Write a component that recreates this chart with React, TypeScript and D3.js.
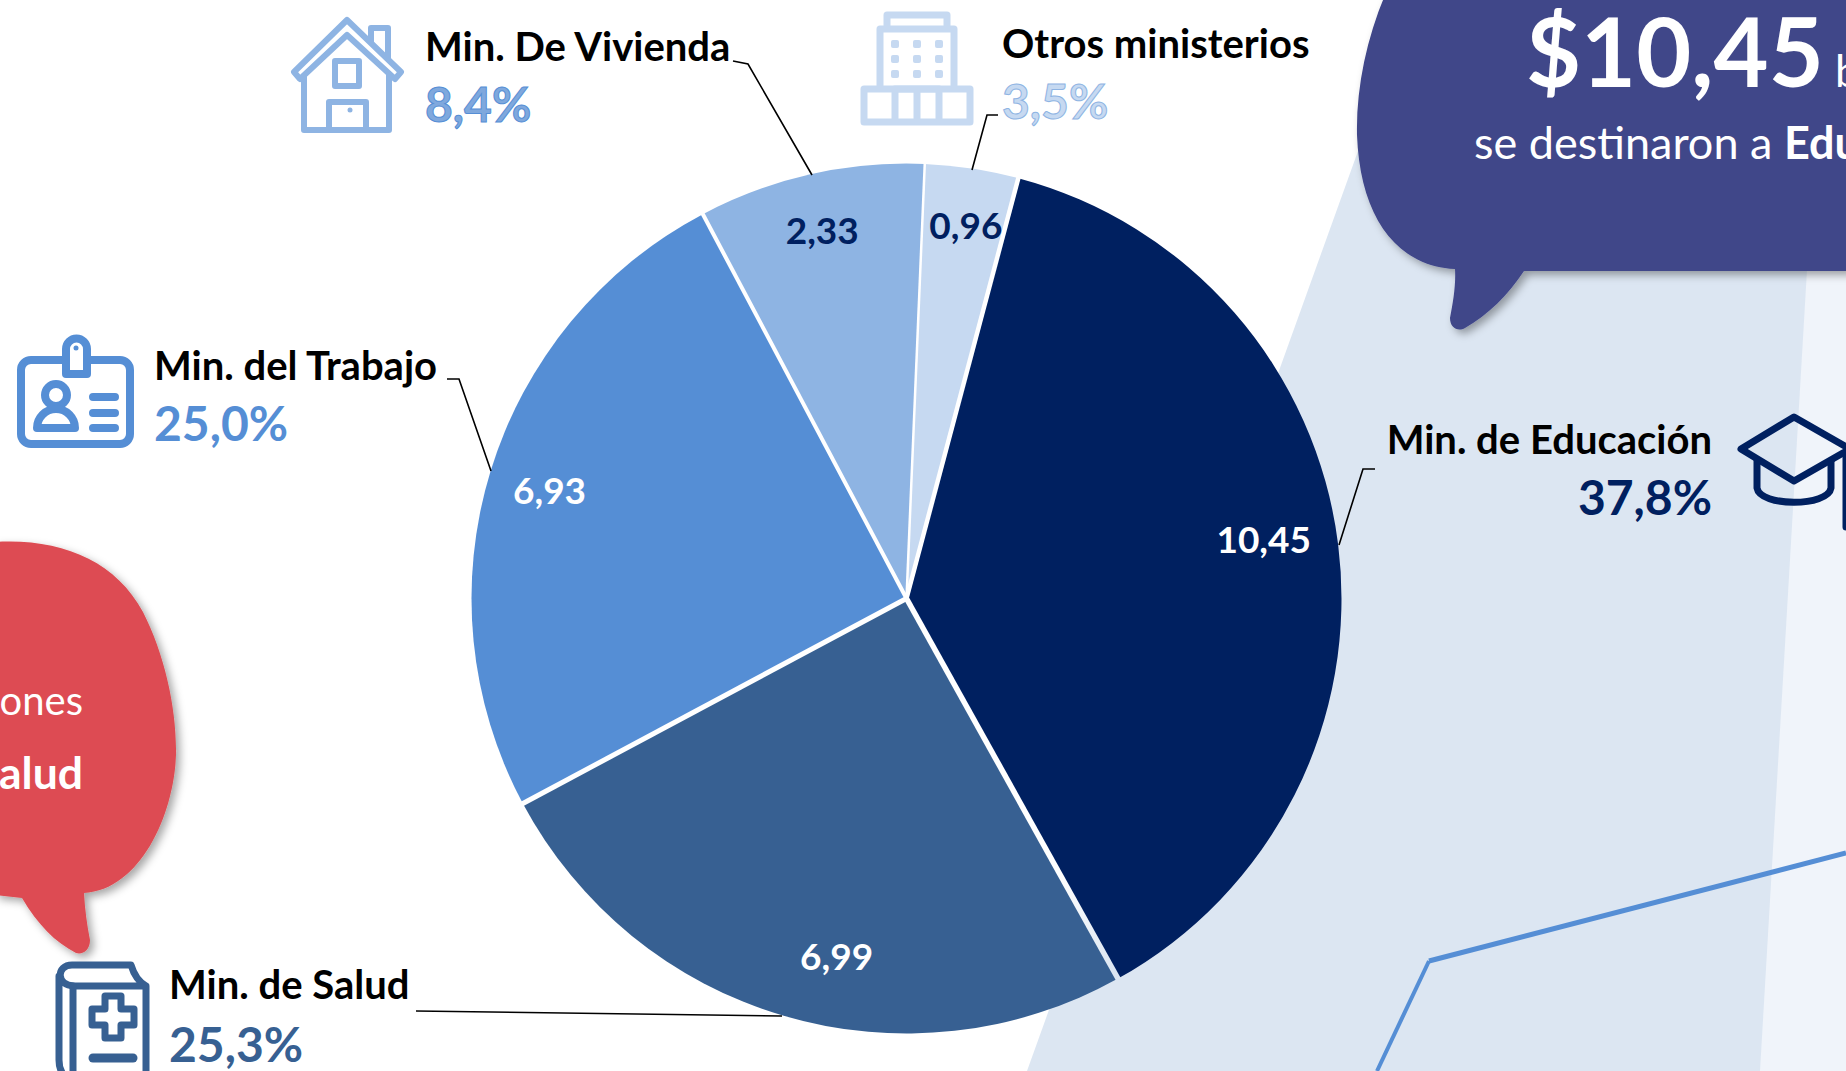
import React from 'react';
import * as d3 from 'd3';

const width = 1846;
const height = 1071;

// chart values
const ministries = ['Min. de Educación', 'Min. de Salud', 'Min. del Trabajo', 'Min. De Vivienda', 'Otros ministerios'];
const budget = [10.45, 6.99, 6.93, 2.33, 0.96];
const budgetLabels = ['10,45', '6,99', '6,93', '2,33', '0,96'];
const shareLabels = ['37,8%', '25,3%', '25,0%', '8,4%', '3,5%'];
const sliceColors = ['#002060', '#376092', '#558ed5', '#8eb4e3', '#c6d9f1'];

// layout of the annotations, one entry per ministry
const valueColors = ['#ffffff', '#ffffff', '#ffffff', '#002060', '#002060'];
const valueNudge = [[-8, -13], [34, 6], [-5, 0], [-3, -9], [4, -9]];
const separatorWidths = [4.5, 5.5, 5, 4, 2.5]; // white line at the start of each slice
const nameLayout = [
  { x: 1712, y: 454, pctY: 515, anchor: 'end' },
  { x: 169, y: 999, pctY: 1062, anchor: 'start' },
  { x: 154, y: 380, pctY: 441, anchor: 'start' },
  { x: 425, y: 61, pctY: 122, anchor: 'start' },
  { x: 1002, y: 58, pctY: 119, anchor: 'start' },
];
const pctFill = ['#002060', '#376092', '#558ed5', '#7fa8dd', '#c6d9f1'];
const pctStroke = ['none', 'none', 'none', '#558ed5', '#8eb4e3'];
const leaders: [number, number][][] = [
  [[1375, 469], [1363, 469], [1339, 545]],
  [[416, 1011], [782, 1016]],
  [[447, 379], [459, 379], [491, 471]],
  [[733, 61], [748, 64], [812, 175]],
  [[998, 115], [987, 115], [972, 170]],
];

const cx = 906.5;
const cy = 598.5;
const radius = 435;
const font = 'Lato, Carlito, sans-serif';

const pie = d3.pie<number>()
  .sort(null)
  .startAngle((14.9 * Math.PI) / 180)
  .endAngle((14.9 * Math.PI) / 180 + 2 * Math.PI);
const arc = d3.arc<d3.PieArcDatum<number>>().innerRadius(0).outerRadius(radius);
const labelArc = d3.arc<d3.PieArcDatum<number>>().innerRadius(368).outerRadius(368);
const color = d3.scaleOrdinal<string, string>().domain(ministries).range(sliceColors);
const leaderLine = d3.line();
const radial = d3.lineRadial();

function House() {
  const c = sliceColors[3];
  return (
    <g fill="none" stroke={c} strokeWidth={6} strokeLinejoin="round">
      <path d="M294 72L347 20L401 72L395 79L347 35L300 79Z" />
      <path d="M371 42V28H388V59" />
      <path d="M304 74V130H389V74" />
      <rect x={335} y={61} width={24} height={25} />
      <path d="M329 130V102H366V130" />
      <circle cx={350} cy={110} r={2.5} fill={c} stroke="none" />
    </g>
  );
}

function Building() {
  const c = sliceColors[4];
  const xs = [895, 917, 939];
  const ys = [44, 59, 74];
  return (
    <g fill="none" stroke={c} strokeWidth={7} strokeLinejoin="round">
      <path d="M887 28V15H947V28" />
      <path d="M880 88V29H954V88" />
      <rect x={864} y={89} width={106} height={33} />
      <path d="M895 122V89H939V122M917 89V122" />
      {xs.map(x => ys.map(y => (
        <rect key={x + '-' + y} x={x - 4} y={y - 4} width={8} height={8} rx={2} fill={c} stroke="none" />
      )))}
    </g>
  );
}

function Badge() {
  const c = sliceColors[2];
  return (
    <g fill="none" stroke={c} strokeWidth={8} strokeLinejoin="round" strokeLinecap="round">
      <rect x={21} y={360} width={109} height={84} rx={10} />
      <path d="M66 374V349A10.500 10.500 0 0 1 87 349V374Z" fill="#fff" />
      <circle cx={76} cy={348} r={2.5} fill={c} stroke="none" />
      <circle cx={56} cy={395} r={11} />
      <path d="M37 428A19 19 0 0 1 75 428Z" />
      <path d="M93 397H115M93 413H115M93 428H115" />
    </g>
  );
}

function Cap() {
  const c = sliceColors[0];
  return (
    <g fill="none" stroke={c} strokeWidth={7} strokeLinejoin="round" strokeLinecap="round">
      <path d="M1741 449L1794 417L1850 449L1794 481Z" />
      <path d="M1757 461V488C1760 507 1828 507 1831 488V461" />
      <path d="M1846 452V527" />
    </g>
  );
}

function Book() {
  const c = sliceColors[1];
  return (
    <g fill="none" stroke={c} strokeWidth={7} strokeLinejoin="round" strokeLinecap="round">
      <path d="M146 986H74C56 986 56 965 72 965H131C134 975 139 982 146 986V1078H72C62 1078 59 1068 59 1060V976" />
      <path d="M73 986V1078" />
      <path d="M105 996H121V1009H134V1025H121V1038H105V1025H92V1009H105Z" />
      <path d="M93 1058H133" strokeWidth={9} />
    </g>
  );
}

export default function App() {
  const slices = pie(budget);
  return (
    <svg
      width={width}
      height={height}
      viewBox={`0 0 ${width} ${height}`}
      style={{ position: 'fixed', left: 0, top: 0, display: 'block', background: '#fff' }}
      fontFamily={font}
    >
      <defs>
        <filter id="bubbleShadow" x="-10%" y="-10%" width="125%" height="125%">
          <feDropShadow dx={4} dy={4} stdDeviation={4} floodColor="#000" floodOpacity={0.35} />
        </filter>
        {/* the gap between Salud and Educación runs out onto the pale panel */}
        <radialGradient id="gapFade" gradientUnits="userSpaceOnUse" cx={0} cy={0} r={radius}>
          <stop offset="0.72" stopColor="#fff" />
          <stop offset="0.98" stopColor="#dce6f2" />
        </radialGradient>
      </defs>

      {/* background panels */}
      <path d="M1362 140L1846 -60V1071H1027Z" fill="#dce6f2" />
      <path d="M1807 270L1846 270V1071H1760Z" fill="#f0f4fa" />
      <path d="M1429 961L1846 853" fill="none" stroke="#558ed5" strokeWidth={5} />
      <path d="M1377 1071L1429 961" fill="none" stroke="#558ed5" strokeWidth={4} />

      {/* speech bubbles */}
      <path
        d="M1385 -5C1366 40 1356 90 1357 135C1360 215 1395 266 1455 269C1456 285 1453 303 1450 318C1450 328 1458 332 1465 328C1488 315 1508 295 1524 271H1850V-5Z"
        fill="#404689"
        filter="url(#bubbleShadow)"
      />
      <path
        d="M-5 542C60 538 115 560 143 612C165 655 177 710 176 755C174 815 140 890 84 893C85 910 87 925 90 940C90 950 83 955 76 953C55 942 38 925 22 898L-5 895Z"
        fill="#dd4c52"
        filter="url(#bubbleShadow)"
      />
      <text x={1526} y={87} fill="#fff" fontWeight={700} fontSize={95}>
        $10,45
        <tspan x={1835} fontWeight={400} fontSize={44}>billones</tspan>
      </text>
      <text x={1474} y={159} fill="#fff" fontSize={45}>
        se destinaron a <tspan fontWeight={700}>Educación</tspan>
      </text>
      <text x={83} y={715} fill="#fff" fontSize={40} textAnchor="end">billones</text>
      <text x={83} y={789} fill="#fff" fontSize={44.5} fontWeight={700} textAnchor="end">Salud</text>

      {/* pie */}
      <g transform={`translate(${cx},${cy})`}>
        {slices.map((d, i) => (
          <path key={ministries[i]} d={arc(d) as string} fill={color(ministries[i])} />
        ))}
        {slices.map((d, i) => (
          <path
            key={'gap-' + ministries[i]}
            d={radial([[d.startAngle, 0], [d.startAngle, radius + 1]]) as string}
            fill="none"
            stroke={i === 1 ? 'url(#gapFade)' : '#fff'}
            strokeWidth={separatorWidths[i]}
          />
        ))}
        {slices.map((d, i) => {
          const [x, y] = labelArc.centroid(d);
          return (
            <text
              key={budgetLabels[i]}
              x={x + valueNudge[i][0]}
              y={y + valueNudge[i][1]}
              dy="0.35em"
              textAnchor="middle"
              fontSize={37}
              fontWeight={700}
              fill={valueColors[i]}
            >
              {budgetLabels[i]}
            </text>
          );
        })}
      </g>

      {/* leader lines */}
      {leaders.map((pts, i) => (
        <path key={i} d={leaderLine(pts) as string} fill="none" stroke="#000" strokeWidth={1.6} />
      ))}

      {/* ministry names and shares */}
      {ministries.map((name, i) => {
        const l = nameLayout[i];
        return (
          <g key={name} textAnchor={l.anchor as 'start' | 'end'}>
            <text x={l.x} y={l.y} fontSize={40} fontWeight={700} fill="#000">{name}</text>
            <text
              x={l.x}
              y={l.pctY}
              fontSize={48}
              fontWeight={700}
              fill={pctFill[i]}
              stroke={pctStroke[i]}
              strokeWidth={1}
            >
              {shareLabels[i]}
            </text>
          </g>
        );
      })}

      <House />
      <Building />
      <Badge />
      <Cap />
      <Book />
    </svg>
  );
}
